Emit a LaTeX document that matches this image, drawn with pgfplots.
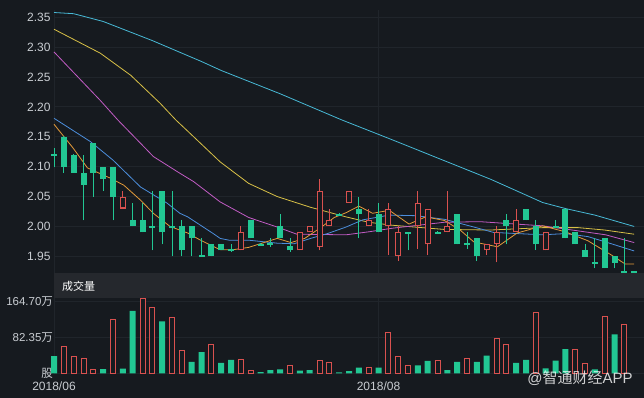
\documentclass[border=0pt]{standalone}
\usepackage{fontspec}
\setmainfont{Liberation Sans}
\newfontfamily\cjk{Noto Sans CJK SC}
\usepackage{pgfplots}
\pgfplotsset{compat=1.18}
\usepackage{pgfplotstable}

\definecolor{bgc}{HTML}{161A1F}
\definecolor{bandc}{HTML}{25282D}
\definecolor{gridc}{HTML}{20252B}
\definecolor{labelc}{HTML}{C9CDD2}
\definecolor{downc}{HTML}{22C793}
\definecolor{upc}{HTML}{D9514F}
\definecolor{maA}{HTML}{E39B3A}
\definecolor{maB}{HTML}{4C8EDC}
\definecolor{maC}{HTML}{C25CC4}
\definecolor{maD}{HTML}{D8C047}
\definecolor{maE}{HTML}{48B9D6}

% green (falling) candles: index open high low close
\pgfplotstableread{
i o h l c
0 2.121 2.131 2.099 2.118
1 2.150 2.151 2.090 2.100
2 2.120 2.121 2.090 2.090
3 2.090 2.120 2.010 2.070
4 2.140 2.140 2.050 2.090
5 2.100 2.100 2.060 2.080
6 2.100 2.100 2.010 2.050
8 2.010 2.040 2.000 2.000
9 2.010 2.040 1.990 1.990
10 2.001 2.060 1.960 1.998
11 2.060 2.060 1.970 1.990
12 2.001 2.060 1.950 1.998
13 2.000 2.010 1.950 1.960
14 2.000 2.000 1.950 1.980
15 1.952 1.980 1.949 1.949
16 1.970 1.970 1.950 1.950
17 1.970 1.970 1.960 1.960
18 1.962 1.970 1.958 1.959
20 2.010 2.010 1.980 1.980
21 1.971 1.972 1.968 1.968
22 1.972 1.980 1.966 1.969
23 2.000 2.020 1.980 1.980
24 1.968 1.980 1.958 1.960
29 2.021 2.022 2.018 2.018
31 2.030 2.050 1.980 2.020
33 2.020 2.040 1.990 1.990
36 1.991 1.991 1.960 1.988
39 1.991 1.992 1.988 1.988
41 2.020 2.020 1.970 1.970
42 1.972 1.990 1.962 1.969
43 1.980 1.980 1.942 1.950
46 2.010 2.020 1.970 2.000
48 2.030 2.030 2.010 2.010
49 2.000 2.011 1.961 1.970
51 2.001 2.011 1.999 1.998
52 2.030 2.030 1.980 1.980
53 1.990 1.990 1.970 1.970
54 1.961 1.970 1.949 1.949
55 1.940 1.980 1.930 1.937
56 1.980 1.980 1.930 1.930
57 1.951 1.951 1.930 1.939
58 1.925 1.980 1.922 1.922
59 1.925 1.925 1.922 1.922
}\downcandles

% red (rising) candles: index open high low close
\pgfplotstableread{
i o h l c
7 2.030 2.060 2.030 2.050
19 1.960 2.000 1.960 1.990
25 1.960 1.990 1.960 1.990
26 1.990 2.000 1.990 2.000
27 1.965 2.080 1.960 2.060
28 2.000 2.030 2.000 2.010
30 2.040 2.060 2.040 2.060
32 2.000 2.030 2.000 2.010
34 2.000 2.040 1.952 2.030
35 1.951 2.000 1.942 1.990
37 2.000 2.060 1.962 2.040
38 1.970 2.030 1.952 2.030
40 1.990 2.060 1.990 2.000
44 1.960 1.970 1.952 1.970
45 1.971 2.000 1.940 1.990
47 1.990 2.030 1.990 2.010
50 1.960 1.990 1.960 1.990
}\upcandles

% volume (10k shares)
\pgfplotstableread{
i v
1 62.3
2 39.4
3 34.0
4 10.3
6 123.5
9 172.5
10 151.8
12 128.9
13 53.2
16 65.4
19 31
20 8
24 18.8
27 29.4
28 24.8
32 14.1
34 94.4
35 39.4
36 18.8
39 28.7
42 34
45 79.2
46 67
49 140.3
53 56.2
54 21.8
56 131.2
58 113.5
}\upvol

\pgfplotstableread{
i v
0 40.1
5 10.3
7 11
8 143.4
11 119.7
14 26.4
15 49.3
17 24.1
18 31
21 3.4
22 8
23 9.6
25 6.4
26 8
29 2.8
30 5.7
31 13.4
33 13.4
37 18.8
38 28.7
40 8
41 26.4
43 26.4
44 40.9
47 24.1
48 31
50 12
51 29.4
52 56.2
55 9.6
57 89.9
}\downvol

\begin{document}
\begin{tikzpicture}[x=1pt,y=1pt]
\fill[bgc] (0,0) rectangle (644,398);
\fill[bandc] (54,100) rectangle (644,125);

\begin{axis}[
  at={(54pt,125pt)}, anchor=south west, scale only axis,
  width=590pt, height=263pt,
  xmin=0, xmax=60, ymin=1.9221, ymax=2.3622,
  clip=false,
  axis line style={draw=none},
  major tick length=0pt,
  xtick={0,33}, xticklabels={},
  ytick={1.95,2.00,2.05,2.10,2.15,2.20,2.25,2.30,2.35},
  yticklabels={1.95,2.00,2.05,2.10,2.15,2.20,2.25,2.30,2.35},
  ymajorgrids, xmajorgrids,
  grid style={gridc, line width=1pt},
  tick label style={font=\fontsize{12}{14}\selectfont, text=labelc},
]
% moving averages
\addplot[maE, line width=0.8pt, line join=round] coordinates {
(0,2.358) (2,2.356) (5,2.343) (10,2.311) (15,2.276) (17,2.261) (23,2.222)
(29.3,2.178) (34.4,2.145) (39.7,2.110) (44.4,2.079) (49.7,2.040) (52,2.030)
(55,2.019) (59,2.000)};
\addplot[maD, line width=0.8pt, line join=round] coordinates {
(0,2.330) (4.7,2.290) (7.8,2.253) (10.8,2.206) (12.4,2.178) (13.5,2.161)
(16.9,2.108) (19.8,2.072) (22.7,2.050) (26.1,2.032) (29.7,2.016) (32,2.007)
(34.4,2.002) (39.7,1.995) (44.4,1.994) (49.7,1.998) (53.3,1.998) (56,1.994) (59,1.987)};
\addplot[maC, line width=0.8pt, line join=round] coordinates {
(0,2.292) (4.7,2.211) (6.5,2.178) (9.4,2.129) (10.1,2.117) (12.8,2.089)
(14.2,2.075) (16.9,2.041) (19.8,2.015) (22.7,1.999) (24.7,1.987) (29.7,1.986)
(32,1.991) (34.4,1.997) (39.7,2.007) (43.3,2.008) (49.7,2.001) (52.7,1.994)
(56.1,1.986) (59,1.973)};
\addplot[maB, line width=0.8pt, line join=round] coordinates {
(0,2.181) (3.7,2.142) (6.0,2.111) (8.8,2.066) (9.4,2.060) (11.5,2.039)
(12.8,2.022) (13.6,2.016) (16.2,1.988) (16.9,1.980) (17.8,1.977) (19.8,1.977)
(22.7,1.972) (24.4,1.971) (26.1,1.980) (27.8,1.988) (29.7,1.999) (31.4,2.011)
(34.1,2.019) (36.8,2.018) (39.7,2.012) (42.7,1.999) (44.7,1.990) (49.7,1.986)
(52,1.988) (54.3,1.983) (56.1,1.974) (59,1.959)};
\addplot[maA, line width=0.8pt, line join=round] coordinates {
(0,2.171) (1.95,2.131) (3.4,2.098) (5.7,2.081) (7.1,2.069) (8.8,2.044)
(10.1,2.022) (11.8,2.000) (13.6,1.989) (14.9,1.977) (16.9,1.961) (18.2,1.961)
(19.8,1.965) (22.7,1.980) (24.1,1.973) (25.5,1.980) (27.2,1.999) (28.5,2.015)
(29.7,2.023) (31.0,2.034) (32.4,2.022) (34.1,2.027) (36.1,2.004) (37.8,2.016)
(39.7,2.010) (41.3,1.994) (42.7,1.974) (45.1,1.966) (47.1,1.989) (49.7,2.001)
(52,1.991) (54.3,1.976) (56.7,1.952) (58.1,1.937) (59,1.937)};

% wicks
\addplot[draw=none, mark=none, forget plot,
  error bars/.cd, y dir=plus, y explicit, error mark=none,
  error bar style={draw=downc, line width=1pt}]
  table[x=i, y=l, y error plus expr=\thisrow{h}-\thisrow{l}] {\downcandles};
\addplot[draw=none, mark=none, forget plot,
  error bars/.cd, y dir=plus, y explicit, error mark=none,
  error bar style={draw=upc, line width=1pt}]
  table[x=i, y=l, y error plus expr=\thisrow{h}-\thisrow{l}] {\upcandles};
% green bodies
\addplot[draw=none, mark=none, forget plot,
  error bars/.cd, y dir=plus, y explicit, error mark=none,
  error bar style={draw=downc, line width=6pt}]
  table[x=i, y=c, y error plus expr=\thisrow{o}-\thisrow{c}] {\downcandles};
% red hollow bodies
\addplot[draw=none, mark=none, forget plot,
  error bars/.cd, y dir=plus, y explicit, error mark=none,
  error bar style={draw=upc, line width=6pt}]
  table[x=i, y=o, y error plus expr=\thisrow{c}-\thisrow{o}] {\upcandles};
\addplot[draw=none, mark=none, forget plot,
  error bars/.cd, y dir=plus, y explicit, error mark=none,
  error bar style={draw=bgc, line width=4pt}]
  table[x=i, y expr=\thisrow{o}+0.0017, y error plus expr=\thisrow{c}-\thisrow{o}-0.0034] {\upcandles};
\end{axis}

\begin{axis}[
  at={(54pt,24.5pt)}, anchor=south west, scale only axis,
  width=590pt, height=75.5pt,
  xmin=0, xmax=60, ymin=0, ymax=173.2,
  clip=false,
  axis line style={draw=none},
  major tick length=0pt,
  xtick={0,33}, xticklabels={2018/06,2018/08},
  ytick={0,82.35,164.70},
  yticklabels={{\cjk 股},82.35{\cjk 万},164.70{\cjk 万}},
  ymajorgrids, xmajorgrids,
  grid style={gridc, line width=1pt},
  tick label style={text=labelc},
  yticklabel style={font=\fontsize{11.5}{13}\selectfont, xshift=2.5pt},
  xticklabel style={font=\fontsize{12}{14}\selectfont, yshift=-5pt},
]
\addplot[ybar, bar width=5pt, bar shift=0pt, draw=upc, fill=bgc, line width=1pt] table[x=i, y=v] {\upvol};
\addplot[ybar, bar width=6pt, bar shift=0pt, draw=none, fill=downc] table[x=i, y=v] {\downvol};
\end{axis}

\node[anchor=west, inner sep=0pt, text=white, font=\fontsize{11}{13}\selectfont] at (62,112) {\cjk 成交量};
\node[inner sep=0pt, text=white, opacity=0.8, font=\fontsize{15}{17}\selectfont] at (580,20) {@{\cjk 智通财经}APP};

\pgfresetboundingbox
\path[use as bounding box] (0,0) rectangle (644,398);
\end{tikzpicture}
\end{document}
